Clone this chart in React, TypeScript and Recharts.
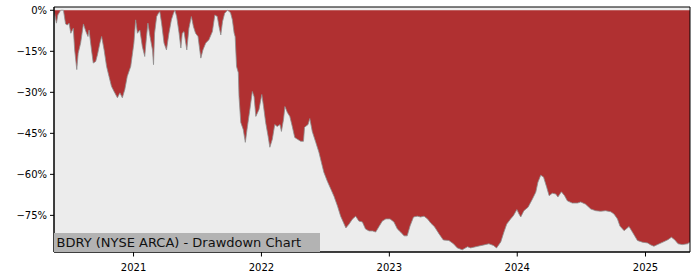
import { Area, AreaChart, CartesianGrid, ReferenceArea, XAxis, YAxis } from "recharts";

const dates = [
  "2020-05-19", "2020-05-26", "2020-05-30", "2020-06-07", "2020-06-15", "2020-06-21", "2020-06-26", "2020-07-01",
  "2020-07-06", "2020-07-13", "2020-07-17", "2020-07-23", "2020-07-27", "2020-08-03", "2020-08-11", "2020-08-18",
  "2020-08-24", "2020-08-27", "2020-09-03", "2020-09-08", "2020-09-15", "2020-09-20", "2020-09-27", "2020-10-02",
  "2020-10-09", "2020-10-16", "2020-10-23", "2020-10-30", "2020-11-06", "2020-11-16", "2020-11-23", "2020-11-30",
  "2020-12-07", "2020-12-14", "2020-12-24",
  "2021-01-02", "2021-01-07", "2021-01-12", "2021-01-19", "2021-01-26", "2021-02-02", "2021-02-07", "2021-02-11",
  "2021-02-17", "2021-02-24", "2021-02-27", "2021-03-02", "2021-03-08", "2021-03-13", "2021-03-17", "2021-03-22",
  "2021-03-29", "2021-04-05", "2021-04-12", "2021-04-19", "2021-04-25", "2021-04-29", "2021-05-04", "2021-05-11",
  "2021-05-16", "2021-05-20", "2021-05-25", "2021-06-02", "2021-06-08", "2021-06-15", "2021-06-21", "2021-06-27",
  "2021-07-04", "2021-07-12", "2021-07-18", "2021-07-26", "2021-08-04", "2021-08-14", "2021-08-21", "2021-08-28",
  "2021-09-02", "2021-09-07", "2021-09-12", "2021-09-18", "2021-09-26", "2021-10-02", "2021-10-05", "2021-10-10",
  "2021-10-15", "2021-10-18", "2021-10-22", "2021-10-27", "2021-10-29", "2021-11-03", "2021-11-10", "2021-11-16",
  "2021-11-22", "2021-11-29", "2021-12-06", "2021-12-11", "2021-12-16", "2021-12-25",
  "2022-01-02", "2022-01-07", "2022-01-13", "2022-01-20", "2022-01-25", "2022-02-01", "2022-02-08", "2022-02-15",
  "2022-02-23", "2022-02-27", "2022-03-05", "2022-03-09", "2022-03-16", "2022-03-23", "2022-03-30", "2022-04-06",
  "2022-04-14", "2022-04-23", "2022-05-01", "2022-05-04", "2022-05-14", "2022-05-19", "2022-05-26", "2022-06-05",
  "2022-06-14", "2022-06-21", "2022-06-28", "2022-07-08", "2022-07-18", "2022-07-27", "2022-08-06", "2022-08-15",
  "2022-08-30", "2022-09-08", "2022-09-18", "2022-09-27", "2022-10-06", "2022-10-16", "2022-10-25", "2022-11-04",
  "2022-11-14", "2022-11-23", "2022-12-02", "2022-12-12", "2022-12-22",
  "2023-01-03", "2023-01-14", "2023-01-24", "2023-02-02", "2023-02-12", "2023-02-21", "2023-03-01", "2023-03-11",
  "2023-03-22", "2023-03-31", "2023-04-10", "2023-04-20", "2023-04-29", "2023-05-10", "2023-05-23", "2023-06-04",
  "2023-06-20", "2023-07-03", "2023-07-14", "2023-07-28", "2023-08-12", "2023-08-21", "2023-09-04", "2023-09-14",
  "2023-09-28", "2023-10-12", "2023-10-25", "2023-11-03", "2023-11-15", "2023-11-24", "2023-12-02", "2023-12-13",
  "2023-12-21", "2023-12-31",
  "2024-01-06", "2024-01-11", "2024-01-20", "2024-02-01", "2024-02-13", "2024-02-23", "2024-02-29", "2024-03-08",
  "2024-03-16", "2024-03-25", "2024-04-01", "2024-04-10", "2024-04-20", "2024-04-26", "2024-05-06", "2024-05-15",
  "2024-05-23", "2024-06-06", "2024-06-21", "2024-06-30", "2024-07-14", "2024-07-29", "2024-08-12", "2024-08-26",
  "2024-09-09", "2024-09-24", "2024-10-03", "2024-10-13", "2024-10-20", "2024-11-01", "2024-11-15", "2024-11-25",
  "2024-12-09", "2024-12-23",
  "2025-01-07", "2025-01-16", "2025-01-25", "2025-02-09", "2025-02-23", "2025-03-06", "2025-03-16", "2025-03-25",
  "2025-04-04", "2025-04-16", "2025-05-01", "2025-05-08",
];

// drawdown in percent
const drawdown = [
  0, -4.7, -1.7, 0, 0, -5.0, -5.4, -4.7,
  -8.4, -6.6, -14.5, -21.7, -15.7, -12.0, -5.0, -7.8,
  -9.6, -7.2, -14.5, -19.3, -18.7, -16.3, -12.0, -9.6,
  -14.5, -20.5, -24.2, -27.8, -29.6, -32.0, -30.2, -32.0,
  -29.0, -24.2, -20.5,
  -12.0, -3.5, -8.4, -7.2, -13.2, -16.9, -9.6, -4.7,
  -9.6, -14.5, -19.9, -8.4, -2.3, -1.1, -0.5, -4.7,
  -12.0, -14.5, -8.4, -3.5, -1.1, 0, -2.3, -8.4,
  -13.8, -8.4, -7.8, -14.5, -6.6, -2.3, -6.0, -8.4,
  -9.6, -17.5, -14.5, -12.0, -10.8, -7.8, -1.7, -2.3,
  -6.0, -9.0, -4.1, -1.1, 0, -0.5, -1.0, -3.5,
  -8.3, -9.7, -20.6, -22.8, -31.6, -41.0, -43.6, -48.3,
  -42.5, -36.3, -29.7, -31.6, -38.8, -36.3,
  -30.8, -35.2, -41.0, -46.1, -50.1, -47.2, -41.8, -42.5,
  -41.8, -44.3, -39.9, -35.2, -37.4, -38.8, -42.5, -46.5,
  -47.2, -47.9, -47.9, -42.8, -41.8, -39.6, -44.3, -48.3,
  -51.9, -55.6, -59.2, -62.5, -65.4, -68.0, -71.6, -75.3,
  -79.6, -78.2, -76.3, -75.3, -77.1, -77.4, -80.0, -80.7,
  -80.7, -81.1, -79.2, -77.1, -76.3,
  -76.3, -77.4, -80.0, -81.1, -82.5, -82.5, -78.9, -75.6,
  -75.3, -75.6, -75.3, -76.3, -77.8, -79.2, -81.8, -84.0,
  -84.2, -85.4, -86.9, -87.6, -86.5, -86.9, -86.5, -86.2,
  -85.8, -85.4, -86.0, -86.9, -84.7, -81.1, -78.2, -76.3,
  -75.1, -72.9,
  -74.5, -75.6, -73.3, -72.0, -69.1, -66.5, -62.9, -60.3,
  -61.0, -64.7, -67.8, -66.9, -67.2, -68.3, -66.4, -67.8,
  -69.7, -70.5, -70.5, -70.1, -70.9, -72.7, -73.3, -73.5,
  -73.3, -73.7, -74.5, -76.3, -78.9, -80.6, -79.1, -81.2,
  -84.2, -84.8,
  -85.1, -85.8, -86.3, -85.4, -84.6, -83.9, -83.0, -83.9,
  -85.4, -85.7, -85.4, -84.7,
];

const yTicks = [0, -15, -30, -45, -60, -75];
const yearTicks = ["2021-01-01", "2022-01-01", "2023-01-01", "2024-01-01", "2025-01-01"];
const title = "BDRY (NYSE ARCA) - Drawdown Chart";

const Y_MIN = -88.4;
const Y_MAX = 1.2;

export default function App() {
  const data = dates.map((d, i) => ({ t: Date.parse(d), dd: drawdown[i] }));
  const t0 = data[0].t;
  const t1 = data[data.length - 1].t;
  const font = { fontFamily: "DejaVu Sans", fontSize: 10, fill: "#000" };

  return (
    <div style={{ position: "absolute", left: 0, top: 0, width: 700, height: 280, background: "#fff" }}>
      <AreaChart width={700} height={280} data={data} margin={{ top: 7, right: 10, bottom: 0, left: 0 }}>
        <CartesianGrid fill="#ececec" horizontal={false} vertical={false} />
        <XAxis
          dataKey="t"
          type="number"
          scale="time"
          domain={[t0, t1]}
          ticks={yearTicks.map((d) => Date.parse(d))}
          tickFormatter={(v: number) => String(new Date(v).getUTCFullYear())}
          tick={font}
          tickSize={4.5}
          tickMargin={7}
          height={28}
          stroke="#000"
          allowDataOverflow
        />
        <YAxis
          type="number"
          domain={[Y_MIN, Y_MAX]}
          ticks={yTicks}
          tickFormatter={(v: number) => (v === 0 ? "0%" : `\u2212${Math.abs(v)}%`)}
          tick={font}
          tickSize={4}
          tickMargin={3}
          width={54}
          stroke="#000"
          allowDataOverflow
        />
        <Area
          type="linear"
          dataKey="dd"
          baseValue={0}
          fill="#b03031"
          fillOpacity={1}
          stroke="#8e8e8e"
          strokeWidth={0.8}
          isAnimationActive={false}
          dot={false}
          activeDot={false}
        />
        <ReferenceArea x1={t0} x2={t1} y1={Y_MIN} y2={Y_MAX} fill="none" stroke="#000" strokeWidth={1} />
      </AreaChart>
      <div
        style={{
          position: "absolute",
          left: 54,
          top: 233,
          width: 266,
          height: 19,
          background: "#b3b3b3",
          fontFamily: "DejaVu Sans",
          fontSize: 13,
          lineHeight: "19px",
          color: "#111",
          paddingLeft: 2.5,
          boxSizing: "border-box",
          whiteSpace: "nowrap",
        }}
      >
        {title}
      </div>
    </div>
  );
}
